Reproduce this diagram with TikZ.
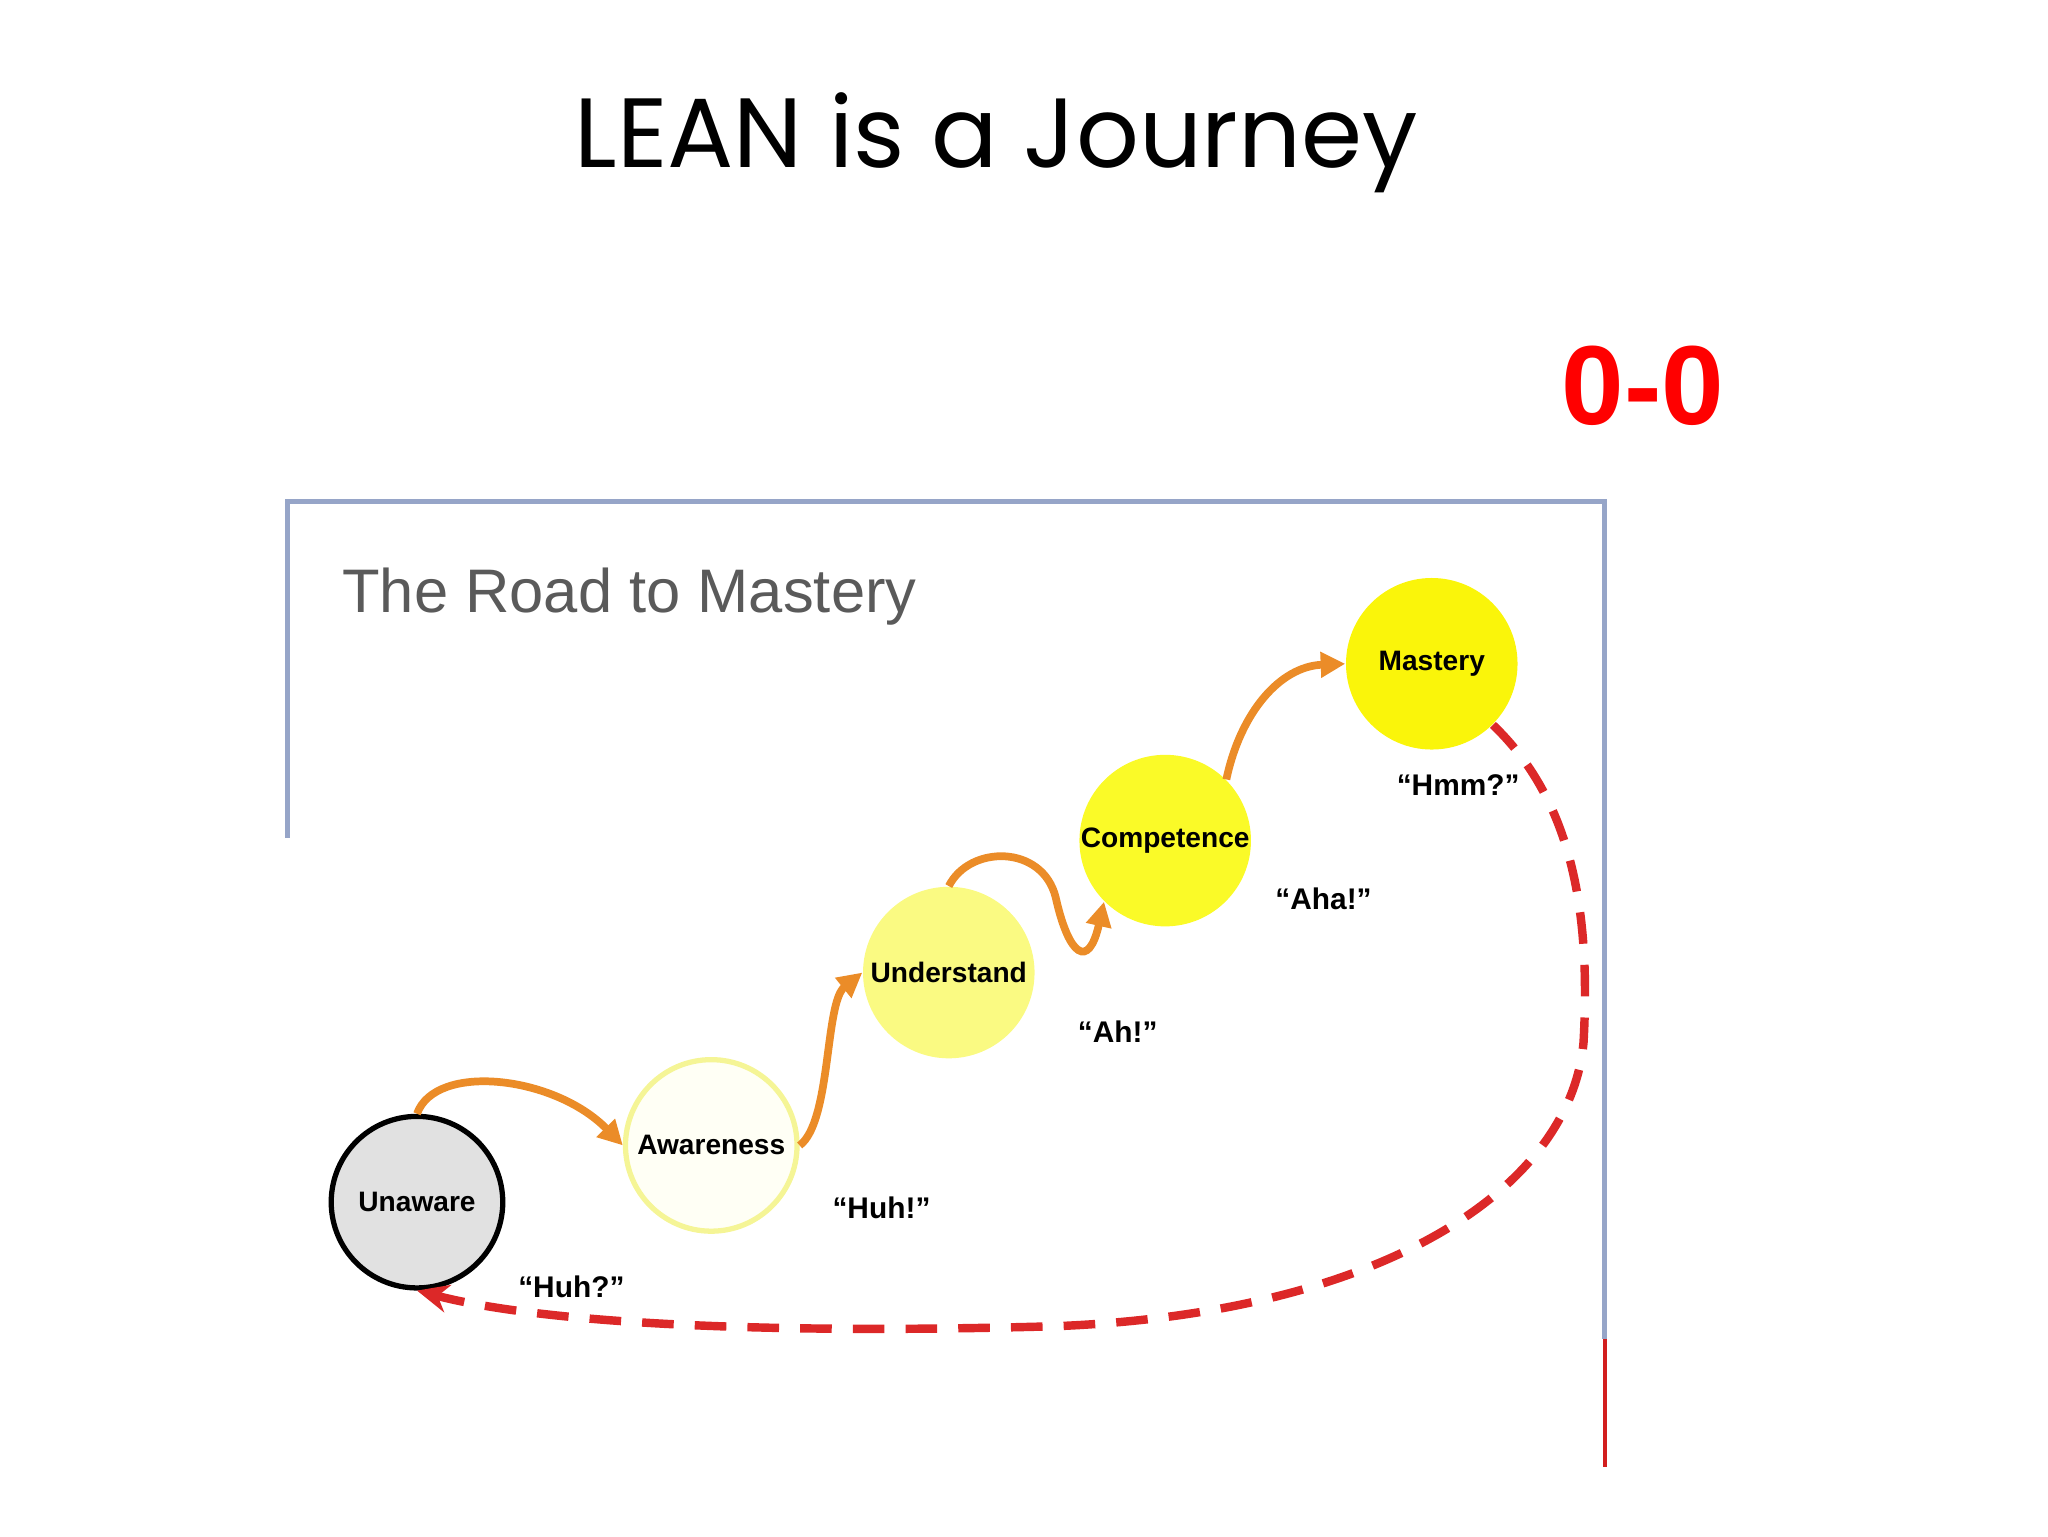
\documentclass[tikz,border=0pt]{standalone}
\usepackage{fontspec}
\setmainfont{Liberation Sans}
\newfontfamily\titlefont{Poppins}
\usetikzlibrary{arrows.meta}
\definecolor{frameblue}{RGB}{150,165,200}
\definecolor{framered}{RGB}{210,30,30}
\definecolor{roadgray}{RGB}{90,90,90}
\definecolor{orng}{RGB}{235,140,40}
\definecolor{rdash}{RGB}{220,40,40}
\definecolor{ungray}{RGB}{225,225,225}
\definecolor{awborder}{RGB}{245,245,150}
\definecolor{awfill}{RGB}{255,255,245}
\definecolor{usfill}{RGB}{250,250,130}
\definecolor{cofill}{RGB}{250,250,40}
\definecolor{mafill}{RGB}{250,245,10}
\begin{document}
\begin{tikzpicture}[x=0.0132cm,y=-0.0132cm,
  stage/.style={circle,minimum size=130*0.0132cm,inner sep=0pt,font=\fontsize{8}{10}\selectfont\bfseries},
  quote/.style={font=\fontsize{8.5}{11}\selectfont\bfseries},
  orangearrow/.style={draw=orng,line width=2.2pt,-{Triangle[length=7pt,width=7pt]}},
  redarrow/.style={draw=rdash,line width=2.4pt,dash pattern=on 9pt off 6pt,-{Stealth[length=9pt,width=8pt]}}]
\useasboundingbox (0,0) rectangle (1552,1164);
\node[font=\titlefont\fontsize{28}{32}\selectfont] (title) at (755,108) {LEAN is a Journey};
\node[font=\fontsize{32}{36}\selectfont\bfseries,text=red] (score) at (1245,292) {0-0};
\draw[frameblue,line width=1.5pt] (218,635) -- (218,380) -- (1216,380) -- (1216,1015);
\draw[framered,line width=1.2pt] (1216,1015) -- (1216,1112);
\node[anchor=west,text=roadgray,font=\fontsize{17.5}{20}\selectfont] (road) at (250,452) {The Road to Mastery};
\node[stage,draw=black,line width=1.5pt,fill=ungray] (un) at (316,911) {Unaware};
\node[stage,draw=awborder,line width=1.5pt,fill=awfill] (aw) at (539,868) {Awareness};
\node[stage,fill=usfill] (us) at (719,737) {Understand};
\node[stage,fill=cofill] (co) at (883,637) {Competence};
\node[stage,fill=mafill] (ma) at (1085,503) {Mastery};
\node[quote] (q1) at (433,975) {“Huh?”};
\node[quote] (q2) at (668,915) {“Huh!”};
\node[quote] (q3) at (847,782) {“Ah!”};
\node[quote] (q4) at (1003,681) {“Aha!”};
\node[quote] (q5) at (1105,595) {“Hmm?”};
\draw[orangearrow] (un.north) .. controls (330,805) and (420,815) .. (aw.west);
\draw[orangearrow] (aw.east) .. controls (630,850) and (625,760) .. (us.west);
\draw[orangearrow] (us.north) .. controls (735,640) and (790,640) .. (800,680) .. controls (810,725) and (825,735) .. (co.south west);
\draw[orangearrow] (co.north east) .. controls (940,540) and (970,505) .. (ma.west);
\coordinate (r1) at (1200,790);
\coordinate (r2) at (800,1005);
\draw[redarrow] (ma.south east) .. controls (1195,610) and (1205,700) .. (r1) .. controls (1190,900) and (1050,995) .. (r2) .. controls (550,1012) and (400,1000) .. (un.south);
\end{tikzpicture}
\end{document}
